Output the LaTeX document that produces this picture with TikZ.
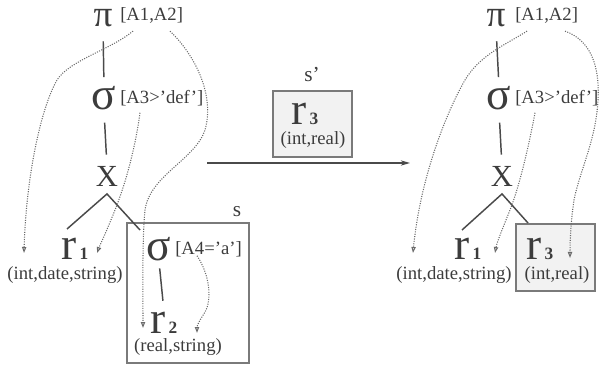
\documentclass[tikz,border=0pt]{standalone}
\usepackage{fontspec}
\setmainfont{Liberation Serif}
\usetikzlibrary{arrows.meta,positioning,calc}
\definecolor{Ink}{HTML}{3C3C3C}
\definecolor{Wire}{HTML}{4A4A4A}
\definecolor{Frame}{HTML}{7A7A7A}
\definecolor{Dots}{HTML}{6A6A6A}
\definecolor{Shade}{HTML}{F2F2F2}
\newcommand\relsub[1]{r{\fontsize{13}{13}\selectfont\bfseries\,#1}}

\begin{document}
\begin{tikzpicture}[x=0.75pt,y=-0.75pt,
op/.style={inner sep=0pt,text=Ink,anchor=base,font=\fontsize{34}{34}\selectfont},
pi/.style={op,font=\fontsize{28}{28}\selectfont},
joinop/.style={inner sep=0pt,text=Ink,anchor=base,font=\fontsize{23}{23}\selectfont},
cond/.style={inner sep=0pt,text=Ink,anchor=base west,font=\fontsize{14}{14}\selectfont},
typ/.style={inner sep=0pt,text=Ink,anchor=base,font=\fontsize{14}{14}\selectfont},
tag/.style={inner sep=0pt,text=Ink,anchor=base,font=\fontsize{16}{16}\selectfont},
edge/.style={draw=Wire,line width=1.1pt},
link/.style={draw=Dots,densely dotted,line width=0.8pt,-{Triangle[open,length=4.5pt,width=3.2pt]}},
flow/.style={draw=Wire,line width=1pt,-{Stealth[length=7pt,width=4pt]}},
grp/.style={draw=Frame,line width=0.9pt,inner sep=0pt},
shaded/.style={grp,fill=Shade}]
\useasboundingbox (0,0) rectangle (602,366);
% left plan
\node[pi] (lpi) at (103,27) {\smash{π}};
\node[cond] (lpic) at (120,21) {[A1,A2]};
\node[op] (lsig) at (104,110) {σ};
\node[cond] (lsigc) at (120,104) {[A3>'def']};
\node[joinop] (lx) at (107,187) {X};
\node[op] (lr1) at (75,260) {\relsub{1}};
\node[typ] (lr1t) at (65,279) {(int,date,string)};
\node[grp,minimum width=91.5pt,minimum height=105pt] (sbox) at (188,293) {};
\node[tag] (slab) at (237,217) {s};
\node[op] (ssig) at (159,261) {σ};
\node[cond] (ssigc) at (175,255) {[A4='a']};
\node[op] (lr2) at (164,333) {\relsub{2}};
\node[typ] (lr2t) at (178,351) {(real,string)};
\coordinate (lxl) at (67,229);
\coordinate (lxr) at (140,230);
\draw[edge,shorten <=10pt,shorten >=7pt] (lpi.south) -- (lsig.north);
\draw[edge,shorten <=9pt,shorten >=9pt] (lsig.south) -- (lx.north);
\draw[edge] (lxl) -- ([yshift=-5pt]lx.south) -- (lxr);
\draw[edge,shorten <=5pt,shorten >=8pt] (ssig.south) -- (lr2.north);
\coordinate (la1) at (24,253);
\coordinate (la2) at (143,328);
\coordinate (la3) at (97,253);
\coordinate (la4) at (197,333);
\draw[link] ($(lpic.south west)+(13,7)$) .. controls (110,50) and (70,60) .. (57,80) .. controls (40,110) and (26,180) .. (la1);
\draw[link] ($(lpic.south west)+(50,7)$) .. controls (195,55) and (215,95) .. (205,130) .. controls (195,160) and (150,175) .. (145,210) .. controls (142,240) and (143,300) .. (la2);
\draw[link] ($(lsigc.south west)+(20,6)$) .. controls (135,150) and (125,185) .. (115,210) .. controls (105,235) and (100,245) .. (la3);
\draw[link] ($(ssigc.south west)+(22,-2)$) .. controls (210,275) and (212,300) .. (205,312) .. controls (200,320) and (197,325) .. (la4);
% rewrite
\node[shaded,minimum width=59.25pt,minimum height=49.5pt] (sp) at (312.5,124) {};
\node[tag] (splab) at (312,82) {s'};
\node[op] (sr3) at (305,125) {\relsub{3}};
\node[typ] (sr3t) at (313,145) {(int,real)};
\coordinate (fa) at (207,163);
\coordinate (fb) at (410,163);
\draw[flow] (fa) -- (fb);
% right plan
\node[pi] (rpi) at (496,27) {\smash{π}};
\node[cond] (rpic) at (515,21) {[A1,A2]};
\node[op] (rsig) at (499,110) {σ};
\node[cond] (rsigc) at (515,104) {[A3>'def']};
\node[joinop] (rx) at (502,187) {X};
\node[op] (rr1) at (468,260) {\relsub{1}};
\node[typ] (rr1t) at (454,279) {(int,date,string)};
\node[shaded,minimum width=59.25pt,minimum height=50.25pt] (rbox) at (555.5,257.5) {};
\node[op] (rr3) at (540,260) {\relsub{3}};
\node[typ] (rr3t) at (557,279) {(int,real)};
\coordinate (rxl) at (462,230);
\coordinate (rxr) at (528,223);
\draw[edge,shorten <=10pt,shorten >=7pt] (rpi.south) -- (rsig.north);
\draw[edge,shorten <=9pt,shorten >=9pt] (rsig.south) -- (rx.north);
\draw[edge] (rxl) -- ([yshift=-5pt]rx.south) -- (rxr);
\coordinate (rb1) at (413,253);
\coordinate (rb2) at (495,253);
\coordinate (rb3) at (570,258);
\draw[link] ($(rpic.south west)+(12,7)$) .. controls (505,45) and (480,55) .. (465,80) .. controls (445,115) and (420,180) .. (rb1);
\draw[link] ($(rsigc.south west)+(20,6)$) .. controls (530,140) and (520,185) .. (510,210) .. controls (502,230) and (497,242) .. (rb2);
\draw[link] ($(rpic.south west)+(50,7)$) .. controls (590,40) and (600,65) .. (598,100) .. controls (596,140) and (580,170) .. (574,200) .. controls (571,220) and (570,240) .. (rb3);
\end{tikzpicture}
\end{document}
